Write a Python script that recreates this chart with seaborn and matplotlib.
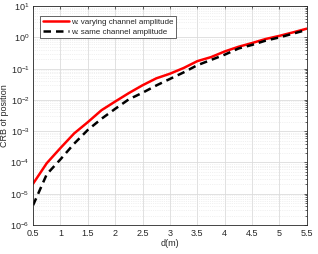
import numpy as np
import pandas as pd
import matplotlib
matplotlib.use("Agg")
import matplotlib.pyplot as plt
import seaborn as sns
from matplotlib.ticker import LogLocator, FixedLocator

d = [0.5, 0.75, 1.0, 1.25, 1.5, 1.75, 2.0, 2.25, 2.5, 2.75, 3.0, 3.25, 3.5,
     3.75, 4.0, 4.25, 4.5, 4.75, 5.0, 5.25, 5.5]
crb_varying = [2.1e-5, 9.5e-5, 2.9e-4, 8.5e-4, 1.95e-3, 4.7e-3, 8.9e-3, 1.66e-2,
               2.95e-2, 4.9e-2, 6.9e-2, 0.105, 0.174, 0.234, 0.355, 0.5, 0.66,
               0.89, 1.12, 1.45, 1.9]
crb_same = [4.3e-6, 4.2e-5, 1.26e-4, 4.0e-4, 1.1e-3, 2.5e-3, 5.2e-3, 1.05e-2,
            1.7e-2, 2.9e-2, 4.7e-2, 7.6e-2, 0.129, 0.19, 0.28, 0.44, 0.575,
            0.79, 1.0, 1.32, 1.74]
labels = ["w. varying channel amplitude", "w. same channel amplitude"]
xticks = [0.5, 1, 1.5, 2, 2.5, 3, 3.5, 4, 4.5, 5, 5.5]
xticklabels = ["0.5", "1", "1.5", "2", "2.5", "3", "3.5", "4", "4.5", "5", "5.5"]

df = pd.DataFrame({
    "d": d + d,
    "crb": crb_varying + crb_same,
    "series": [labels[0]] * len(d) + [labels[1]] * len(d),
})

sns.set_style("white")
plt.rcParams["font.family"] = ["Liberation Sans", "DejaVu Sans"]
plt.rcParams["mathtext.fontset"] = "custom"
plt.rcParams["mathtext.rm"] = "Liberation Sans"
plt.rcParams["mathtext.it"] = "Liberation Sans"

fig = plt.figure(figsize=(3.18, 2.54), dpi=100)
ax = fig.add_axes([0.104, 0.114, 0.861, 0.862])

sns.lineplot(data=df, x="d", y="crb", hue="series", style="series",
             palette={labels[0]: "#ff0000", labels[1]: "#000000"},
             dashes={labels[0]: "", labels[1]: (3, 2)},
             linewidth=1.8, ax=ax, legend=True)

ax.set_yscale("log")
ax.set_xlim(0.5, 5.5)
ax.set_ylim(1e-6, 10)
ax.xaxis.set_major_locator(FixedLocator(xticks))
ax.set_xticklabels(xticklabels)
ax.yaxis.set_major_locator(LogLocator(base=10, numticks=20))
ax.yaxis.set_minor_locator(LogLocator(base=10, subs=np.arange(2, 10), numticks=100))

ax.grid(True, which="major", color="#dcdcdc", linewidth=0.6, linestyle="-")
ax.grid(True, which="minor", axis="y", color="#e4e4e4", linewidth=0.5, linestyle=":")
ax.set_axisbelow(True)

ax.tick_params(which="both", direction="in", top=True, right=True,
               labelsize=6.5, colors="#262626", length=2.5, width=0.5, pad=2.5)
ax.tick_params(which="minor", length=1.5)
for s in ax.spines.values():
    s.set_color("#262626")
    s.set_linewidth(0.6)

ax.set_xlabel("d(m)", fontsize=6.5, color="#262626", labelpad=1)
ax.set_ylabel("CRB of position", fontsize=6.5, color="#262626", labelpad=1)

leg = ax.legend(loc="upper left", fontsize=5.8, frameon=True, fancybox=False,
                edgecolor="#262626", framealpha=1, borderpad=0.3,
                handlelength=3.2, handletextpad=0.3, labelspacing=0.3,
                bbox_to_anchor=(0.012, 0.975))
leg.get_frame().set_linewidth(0.5)

fig.savefig("out.png", dpi=100)
